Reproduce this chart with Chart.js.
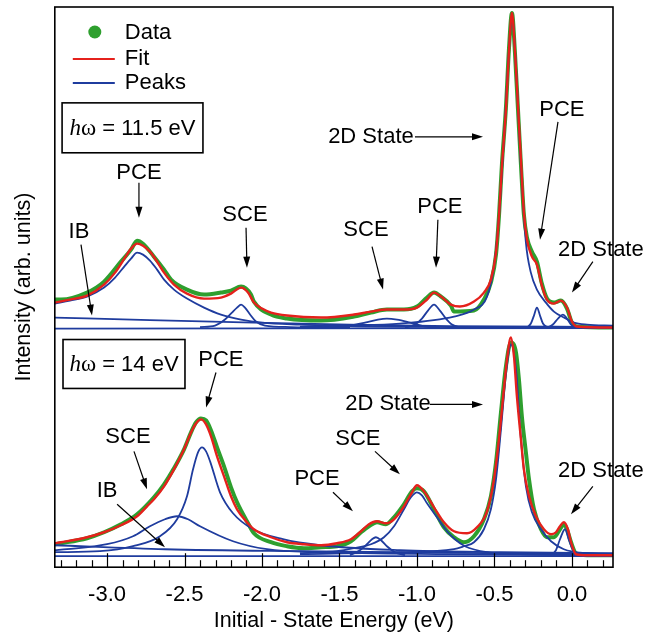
<!DOCTYPE html>
<html>
<head>
<meta charset="utf-8">
<script src="https://cdn.jsdelivr.net/npm/chart.js@4.4.1/dist/chart.umd.min.js"></script>
<style>
  html, body { margin: 0; padding: 0; background: #fff; }
</style>
</head>
<body>
<canvas id="chart" width="645" height="637"></canvas>
<script>
// Points are [initial-state energy (eV), intensity (arb. units)]
// Upper spectrum: hw = 11.5 eV
const topData = [
  [-3.337, 28], [-3.297, 28], [-3.129, 35], [-3.019, 46], [-2.910, 66], [-2.845, 78], [-2.806, 87],
  [-2.768, 84], [-2.697, 71], [-2.632, 58], [-2.587, 48], [-2.484, 38], [-2.374, 33], [-2.265, 35],
  [-2.200, 37], [-2.135, 41], [-2.071, 33], [-2.052, 26], [-1.942, 13], [-1.839, 9], [-1.619, 7],
  [-1.406, 11], [-1.297, 15], [-1.194, 18], [-1.084, 18], [-1.000, 21], [-0.935, 30], [-0.890, 35],
  [-0.845, 31], [-0.781, 22], [-0.761, 16], [-0.632, 17], [-0.568, 28], [-0.523, 45], [-0.490, 73],
  [-0.471, 111], [-0.452, 163], [-0.426, 220], [-0.406, 280], [-0.387, 315], [-0.368, 276],
  [-0.348, 218], [-0.329, 163], [-0.310, 113], [-0.290, 90], [-0.258, 76], [-0.226, 66], [-0.194, 44],
  [-0.161, 29], [-0.116, 25], [-0.071, 27], [-0.032, 19], [0.000, 5], [0.032, 1], [0.265, 0]
];
const topFit = [
  [-3.337, 25], [-3.239, 28], [-3.129, 32], [-3.019, 43], [-2.948, 55], [-2.884, 70], [-2.845, 79],
  [-2.806, 84], [-2.768, 82], [-2.723, 76], [-2.677, 66], [-2.632, 55], [-2.568, 43], [-2.484, 34],
  [-2.374, 29], [-2.265, 30], [-2.200, 34], [-2.135, 40], [-2.090, 35], [-2.052, 25], [-2.000, 19],
  [-1.942, 15], [-1.839, 12], [-1.619, 10], [-1.406, 13], [-1.297, 16], [-1.194, 18], [-1.084, 18],
  [-1.000, 20], [-0.935, 28], [-0.890, 35], [-0.845, 31], [-0.781, 23], [-0.723, 21], [-0.632, 26],
  [-0.568, 35], [-0.523, 48], [-0.490, 75], [-0.471, 111], [-0.452, 161], [-0.426, 218],
  [-0.406, 278], [-0.387, 315], [-0.368, 278], [-0.348, 221], [-0.329, 168], [-0.310, 115],
  [-0.290, 88], [-0.258, 71], [-0.226, 63], [-0.194, 42], [-0.161, 28], [-0.116, 24], [-0.071, 27],
  [-0.032, 20], [0.000, 6], [0.032, 1], [0.265, 0]
];
// fitted components, upper spectrum
const topPCE1 = [
  [-3.337, 24], [-3.239, 27], [-3.129, 31], [-3.019, 40], [-2.948, 50], [-2.884, 62], [-2.845, 69],
  [-2.806, 75], [-2.768, 73], [-2.723, 67], [-2.677, 58], [-2.632, 48], [-2.568, 38], [-2.484, 29],
  [-2.374, 20], [-2.265, 13], [-2.135, 8], [-2.000, 5], [-1.755, 3], [-1.432, 1.5], [-0.787, 0.5], [0.265, 0]
];
const topSCE1 = [
  [-2.400, 0.5], [-2.303, 2], [-2.239, 8], [-2.194, 15], [-2.161, 20], [-2.135, 23], [-2.110, 20],
  [-2.077, 13], [-2.039, 6], [-1.981, 2], [-1.819, 0.5], [-1.432, 0]
];
const topSCE2 = [
  [-1.561, 0], [-1.432, 2], [-1.335, 5], [-1.252, 8], [-1.194, 9], [-1.129, 8], [-1.045, 5], [-0.948, 1], [-0.852, 0]
];
const topPCE2 = [
  [-1.077, 0], [-1.013, 3], [-0.968, 9], [-0.929, 17], [-0.890, 23], [-0.852, 17], [-0.813, 9], [-0.774, 3], [-0.723, 0]
];
const top2D1 = [
  [-1.755, 1], [-1.432, 2], [-1.110, 4], [-0.761, 11], [-0.632, 18], [-0.548, 31], [-0.503, 61],
  [-0.471, 111], [-0.439, 188], [-0.406, 278], [-0.387, 311], [-0.361, 261], [-0.329, 161],
  [-0.297, 85], [-0.265, 55], [-0.226, 38], [-0.168, 25], [-0.116, 16], [-0.052, 10], [0.013, 5],
  [0.097, 3], [0.265, 2]
];
const topPCE3 = [
  [-0.290, 0], [-0.265, 4], [-0.245, 12], [-0.226, 20], [-0.206, 12], [-0.187, 4], [-0.155, 0]
];
const top2D2 = [
  [-0.155, 0], [-0.123, 3], [-0.090, 9], [-0.058, 13], [-0.032, 9], [-0.006, 3], [0.032, 0]
];
const topIB = [[-3.337, 10], [-2.723, 7.5], [-2.052, 5], [-1.432, 3], [-0.787, 1.5], [0.265, 0.5]];
const topBackground = [[-3.337, -1], [0.265, -0.5]];

// Lower spectrum: hw = 14 eV
const botData = [
  [-3.337, 11], [-3.297, 12], [-3.129, 17], [-3.019, 23], [-2.910, 31], [-2.806, 41], [-2.697, 58],
  [-2.632, 71], [-2.568, 87], [-2.503, 106], [-2.458, 123], [-2.426, 133], [-2.394, 137],
  [-2.361, 135], [-2.329, 125], [-2.290, 108], [-2.245, 89], [-2.200, 68], [-2.161, 53], [-2.097, 34],
  [-2.052, 22], [-1.942, 13], [-1.839, 9], [-1.729, 7], [-1.619, 8], [-1.516, 9], [-1.426, 14],
  [-1.361, 23], [-1.310, 29], [-1.258, 33], [-1.200, 31], [-1.148, 38], [-1.084, 51], [-1.032, 64],
  [-1.000, 67], [-0.955, 64], [-0.890, 46], [-0.826, 28], [-0.761, 18], [-0.697, 13], [-0.632, 19],
  [-0.568, 36], [-0.523, 59], [-0.490, 93], [-0.458, 143], [-0.426, 189], [-0.394, 213],
  [-0.361, 203], [-0.342, 176], [-0.323, 139], [-0.297, 103], [-0.277, 76], [-0.245, 46],
  [-0.200, 26], [-0.161, 18], [-0.116, 18], [-0.077, 26], [-0.052, 31], [-0.032, 26], [-0.006, 13],
  [0.026, 2], [0.097, 0], [0.265, 0]
];
const botFit = [
  [-3.337, 12], [-3.297, 13], [-3.129, 18], [-3.019, 23], [-2.910, 30], [-2.806, 39], [-2.742, 49],
  [-2.697, 56], [-2.632, 69], [-2.568, 86], [-2.503, 106], [-2.458, 123], [-2.426, 132],
  [-2.394, 136], [-2.361, 131], [-2.329, 119], [-2.290, 99], [-2.245, 79], [-2.200, 59], [-2.161, 46],
  [-2.097, 33], [-2.052, 26], [-1.942, 18], [-1.839, 13], [-1.729, 11], [-1.619, 10], [-1.516, 12],
  [-1.426, 16], [-1.361, 24], [-1.310, 31], [-1.258, 34], [-1.200, 32], [-1.148, 36], [-1.084, 49],
  [-1.032, 63], [-1.000, 70], [-0.955, 64], [-0.890, 48], [-0.826, 33], [-0.761, 24], [-0.677, 22],
  [-0.613, 28], [-0.548, 44], [-0.503, 76], [-0.471, 116], [-0.439, 166], [-0.419, 196],
  [-0.394, 218], [-0.374, 199], [-0.355, 159], [-0.329, 116], [-0.310, 86], [-0.277, 59],
  [-0.232, 39], [-0.181, 26], [-0.135, 21], [-0.103, 23], [-0.077, 29], [-0.052, 33], [-0.026, 26],
  [-0.006, 13], [0.026, 1], [0.097, 0], [0.265, 0]
];
// fitted components, lower spectrum
const botPCE1 = [
  [-3.337, 3], [-3.045, 4], [-2.832, 9], [-2.658, 19], [-2.548, 36], [-2.484, 59], [-2.445, 86],
  [-2.413, 103], [-2.387, 108], [-2.361, 104], [-2.335, 94], [-2.271, 63], [-2.187, 42],
  [-2.058, 26], [-1.865, 16], [-1.626, 10], [-1.110, 5], [-0.465, 3], [0.265, 2]
];
const botSCE1 = [
  [-3.337, 5], [-3.258, 6], [-3.000, 11], [-2.832, 19], [-2.723, 29], [-2.626, 36], [-2.548, 39],
  [-2.477, 36], [-2.400, 29], [-2.187, 14], [-1.968, 6], [-1.626, 3], [-0.787, 1], [0.265, 0]
];
const botPCE2 = [
  [-1.432, 0], [-1.368, 5], [-1.323, 11], [-1.290, 16], [-1.265, 18], [-1.232, 15], [-1.194, 9],
  [-1.142, 3], [-1.077, 0]
];
const botSCE2 = [
  [-1.755, 2], [-1.516, 4], [-1.406, 7], [-1.297, 11], [-1.213, 18], [-1.148, 29], [-1.084, 46],
  [-1.039, 58], [-1.000, 63], [-0.968, 60], [-0.935, 52], [-0.871, 38], [-0.806, 24], [-0.755, 16],
  [-0.690, 9], [-0.548, 3], [-0.335, 1], [0.265, 0]
];
const bot2D1 = [
  [-1.755, 1], [-1.110, 3], [-0.761, 6], [-0.697, 9], [-0.632, 13], [-0.568, 26], [-0.523, 46],
  [-0.490, 76], [-0.458, 126], [-0.426, 181], [-0.394, 211], [-0.361, 186], [-0.329, 116],
  [-0.297, 69], [-0.258, 43], [-0.200, 26], [-0.135, 14], [-0.052, 6], [0.097, 2], [0.265, 1]
];
const bot2D2 = [
  [-0.142, 0], [-0.103, 5], [-0.077, 16], [-0.045, 26], [-0.019, 15], [0.006, 5], [0.052, 0]
];
const botIB = [[-3.337, 10], [-2.626, 6], [-1.755, 4], [0.265, 1]];
const botBackground = [[-3.337, -1], [0.265, -1]];

// x axis ticks
const xMin = -3.337, xMax = 0.265;
const tickStep = 0.1, labelStep = 0.5;

// labels with arrows: text, text x, text y, arrow from x, y, arrow to x, y
const topNotes = [
  ['PCE', -2.794, 155, -2.794, 145, -2.794, 110],
  ['IB', -3.181, 96, -3.168, 83, -3.097, 12],
  ['SCE', -2.110, 113, -2.103, 100, -2.097, 60],
  ['2D State', -1.297, 191, -1.013, 191, -0.574, 191],
  ['SCE', -1.329, 98, -1.290, 81, -1.219, 38],
  ['PCE', -0.852, 121, -0.865, 108, -0.877, 60],
  ['PCE', -0.065, 218, -0.090, 206, -0.206, 88],
  ['2D State', 0.187, 78, 0.135, 66, 0.000, 35]
];
const botNotes = [
  ['PCE', -2.265, 196, -2.297, 183, -2.361, 148],
  ['SCE', -2.865, 118, -2.826, 104, -2.742, 66],
  ['IB', -3.000, 64, -2.935, 51, -2.626, 8],
  ['PCE', -1.645, 76, -1.542, 63, -1.413, 44],
  ['SCE', -1.381, 116, -1.271, 104, -1.110, 81],
  ['2D State', -1.187, 151, -0.916, 151, -0.574, 151],
  ['2D State', 0.187, 84, 0.135, 69, -0.006, 41]
];
// photon energy boxes: scale, label, corner x, y, opposite corner x, y
const photonBoxes = [
  ['yTop', '11.5 eV', -3.290, 225, -2.381, 175],
  ['yBot', '14 eV', -3.284, 216, -2.497, 167]
];

const GREEN = '#2e9f2e';
const RED = '#e5211c';
const BLUE = '#1f3c9e';
const SANS = '"Liberation Sans", Arial, sans-serif';
const SERIF = '"Liberation Serif", "Times New Roman", serif';

Chart.defaults.font.family = SANS;
Chart.defaults.color = '#000';

function isLabelled(v) {
  return Math.abs(v / labelStep - Math.round(v / labelStep)) < 1e-6;
}

function curve(label, pairs, axis, color, width) {
  return {
    label: label,
    data: pairs.map(p => ({x: p[0], y: p[1]})),
    yAxisID: axis,
    borderColor: color,
    borderWidth: width,
    pointRadius: 0,
    cubicInterpolationMode: 'monotone',
    fill: false
  };
}

function drawArrow(ctx, x1, y1, x2, y2) {
  const a = Math.atan2(y2 - y1, x2 - x1);
  const hl = 11, hw = 3.5;
  const bx = x2 - hl * Math.cos(a), by = y2 - hl * Math.sin(a);
  ctx.beginPath();
  ctx.moveTo(x1, y1);
  ctx.lineTo(bx + 2 * Math.cos(a), by + 2 * Math.sin(a));
  ctx.stroke();
  ctx.beginPath();
  ctx.moveTo(x2, y2);
  ctx.lineTo(bx + hw * Math.sin(a), by - hw * Math.cos(a));
  ctx.lineTo(bx - hw * Math.sin(a), by + hw * Math.cos(a));
  ctx.closePath();
  ctx.fill();
}

// frame, inward tick marks, key, photon energy boxes and labels
const decorations = {
  id: 'decorations',
  afterDraw(chart) {
    const {ctx, chartArea: area, scales} = chart;
    const xs = scales.x;
    ctx.save();
    ctx.strokeStyle = '#000';
    ctx.fillStyle = '#000';

    ctx.lineWidth = 1.6;
    ctx.strokeRect(area.left, area.top, area.right - area.left, area.bottom - area.top);

    ctx.lineWidth = 1.2;
    xs.ticks.forEach(t => {
      const px = Math.round(xs.getPixelForValue(t.value)) + 0.5;
      const len = isLabelled(t.value) ? 14 : 7;
      ctx.beginPath();
      ctx.moveTo(px, area.bottom);
      ctx.lineTo(px, area.bottom - len);
      ctx.stroke();
    });

    // key
    const kx = area.left, ky = area.top;
    ctx.font = '22px ' + SANS;
    ctx.textBaseline = 'middle';
    ctx.textAlign = 'left';
    ctx.fillStyle = GREEN;
    ctx.beginPath();
    ctx.arc(kx + 40, ky + 25, 6.5, 0, Math.PI * 2);
    ctx.fill();
    ctx.lineWidth = 2.2;
    ctx.strokeStyle = RED;
    ctx.beginPath(); ctx.moveTo(kx + 18, ky + 52); ctx.lineTo(kx + 60, ky + 52); ctx.stroke();
    ctx.strokeStyle = BLUE;
    ctx.beginPath(); ctx.moveTo(kx + 18, ky + 76); ctx.lineTo(kx + 60, ky + 76); ctx.stroke();
    ctx.fillStyle = '#000';
    ctx.fillText('Data', kx + 70, ky + 26);
    ctx.fillText('Fit', kx + 70, ky + 52);
    ctx.fillText('Peaks', kx + 70, ky + 76);

    // photon energy boxes
    photonBoxes.forEach(b => {
      const ys = scales[b[0]];
      const x1 = xs.getPixelForValue(b[2]), y1 = ys.getPixelForValue(b[3]);
      const x2 = xs.getPixelForValue(b[4]), y2 = ys.getPixelForValue(b[5]);
      ctx.strokeStyle = '#000';
      ctx.lineWidth = 1.6;
      ctx.strokeRect(x1, y1, x2 - x1, y2 - y1);
      const rest = ' = ' + b[1];
      ctx.font = 'italic 23px ' + SERIF;
      const wh = ctx.measureText('h').width;
      ctx.font = '23px ' + SERIF;
      const ww = ctx.measureText('\u03c9').width;
      ctx.font = '22px ' + SANS;
      const wr = ctx.measureText(rest).width;
      let x = (x1 + x2) / 2 - (wh + ww + wr) / 2;
      const y = (y1 + y2) / 2 + 1;
      ctx.font = 'italic 23px ' + SERIF;
      ctx.fillText('h', x, y); x += wh;
      ctx.font = '23px ' + SERIF;
      ctx.fillText('\u03c9', x, y); x += ww;
      ctx.font = '22px ' + SANS;
      ctx.fillText(rest, x, y);
    });

    // peak labels
    ctx.lineWidth = 1.2;
    ctx.strokeStyle = '#000';
    ctx.textAlign = 'center';
    ctx.font = '22px ' + SANS;
    [['yTop', topNotes], ['yBot', botNotes]].forEach(([id, notes]) => {
      const ys = scales[id];
      notes.forEach(n => {
        ctx.fillText(n[0], xs.getPixelForValue(n[1]), ys.getPixelForValue(n[2]));
        drawArrow(ctx,
          xs.getPixelForValue(n[3]), ys.getPixelForValue(n[4]),
          xs.getPixelForValue(n[5]), ys.getPixelForValue(n[6]));
      });
    });
    ctx.restore();
  }
};

const datasets = [
  curve('Fit', topFit, 'yTop', RED, 2.4),
  curve('Fit', botFit, 'yBot', RED, 2.4),
  curve('Peaks', topPCE1, 'yTop', BLUE, 1.8),
  curve('Peaks', topSCE1, 'yTop', BLUE, 1.8),
  curve('Peaks', topSCE2, 'yTop', BLUE, 1.8),
  curve('Peaks', topPCE2, 'yTop', BLUE, 1.8),
  curve('Peaks', top2D1, 'yTop', BLUE, 1.8),
  curve('Peaks', topPCE3, 'yTop', BLUE, 1.8),
  curve('Peaks', top2D2, 'yTop', BLUE, 1.8),
  curve('Peaks', topIB, 'yTop', BLUE, 1.8),
  curve('Peaks', topBackground, 'yTop', BLUE, 1.8),
  curve('Peaks', botPCE1, 'yBot', BLUE, 1.8),
  curve('Peaks', botSCE1, 'yBot', BLUE, 1.8),
  curve('Peaks', botPCE2, 'yBot', BLUE, 1.8),
  curve('Peaks', botSCE2, 'yBot', BLUE, 1.8),
  curve('Peaks', bot2D1, 'yBot', BLUE, 1.8),
  curve('Peaks', bot2D2, 'yBot', BLUE, 1.8),
  curve('Peaks', botIB, 'yBot', BLUE, 1.8),
  curve('Peaks', botBackground, 'yBot', BLUE, 1.8),
  curve('Data', topData, 'yTop', GREEN, 4),
  curve('Data', botData, 'yBot', GREEN, 4)
];

new Chart(document.getElementById('chart'), {
  type: 'line',
  data: {datasets},
  options: {
    responsive: false,
    devicePixelRatio: 1,
    animation: false,
    events: [],
    layout: {padding: {left: 7, right: 32, top: 7, bottom: 3}},
    plugins: {legend: {display: false}, tooltip: {enabled: false}},
    scales: {
      x: {
        type: 'linear',
        position: 'bottom',
        min: xMin,
        max: xMax,
        grid: {display: false, drawTicks: false},
        border: {display: false},
        ticks: {
          stepSize: tickStep,
          includeBounds: false,
          autoSkip: false,
          maxRotation: 0,
          padding: 14.8,
          font: {size: 22},
          color: '#000',
          callback: v => isLabelled(v) ? v.toFixed(1) : ''
        },
        title: {
          display: true,
          text: 'Initial - State Energy (eV)',
          font: {size: 21.5},
          color: '#000',
          padding: {top: -15, bottom: 0}
        }
      },
      // lower panel (defined first, stacked below)
      yBot: {
        type: 'linear',
        position: 'left',
        stack: 'panels',
        stackWeight: 235,
        min: -12,
        max: 223,
        display: false
      },
      // upper panel
      yTop: {
        type: 'linear',
        position: 'left',
        stack: 'panels',
        stackWeight: 326,
        min: -5,
        max: 321,
        display: false
      },
      // carries only the shared axis title
      yTitle: {
        type: 'linear',
        position: 'left',
        grid: {display: false, drawTicks: false},
        border: {display: false},
        ticks: {display: false},
        title: {
          display: true,
          text: 'Intensity (arb. units)',
          font: {size: 21.5},
          color: '#000',
          padding: {top: 4, bottom: 18}
        }
      }
    }
  },
  plugins: [decorations]
});
</script>
</body>
</html>
